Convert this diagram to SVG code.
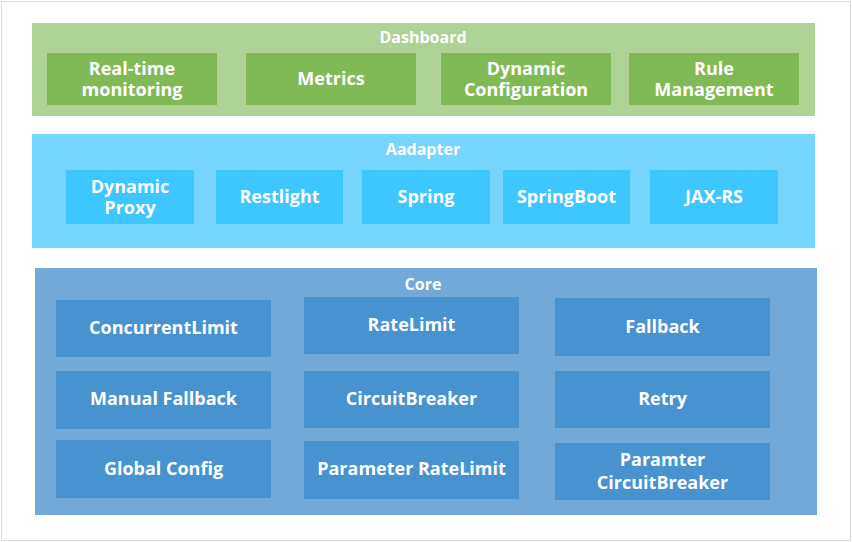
<svg xmlns="http://www.w3.org/2000/svg" width="852" height="542" viewBox="0 0 852 542">
<style>
  .t{font-family:"Open Sans","Noto Sans","Liberation Sans",sans-serif;font-weight:bold;fill:#ffffff;text-anchor:middle;dominant-baseline:central}
  .title{font-size:16px}
  .lbl{font-size:18px}
  .dash-bg{fill:#AED395}
  .dash-in{fill:#7FBA56}
  .ad-bg{fill:#76D5FF}
  .ad-in{fill:#3DC6FF}
  .core-bg{fill:#73A9D8}
  .core-in{fill:#4892CF}
</style>
<rect x="1.5" y="1.5" width="849" height="539" fill="#ffffff" stroke="#D9DCE3" stroke-width="1"/>

<g id="dashboard">
  <rect class="dash-bg" x="32" y="23" width="783" height="93"/>
  <text class="t title" x="423" y="37">Dashboard</text>
</g>
<g id="realtime">
  <rect class="dash-in" x="47" y="53" width="170" height="52"/>
  <text class="t lbl" x="132" y="68">Real-time<tspan x="132" dy="21">monitoring</tspan></text>
</g>
<g id="metrics">
  <rect class="dash-in" x="246" y="53" width="170" height="52"/>
  <text class="t lbl" x="331" y="78">Metrics</text>
</g>
<g id="dynconf">
  <rect class="dash-in" x="441" y="53" width="170" height="52"/>
  <text class="t lbl" x="526" y="68">Dynamic<tspan x="526" dy="21">Configuration</tspan></text>
</g>
<g id="rulemgmt">
  <rect class="dash-in" x="629" y="53" width="170" height="52"/>
  <text class="t lbl" x="714" y="68">Rule<tspan x="714" dy="21">Management</tspan></text>
</g>

<g id="adapter">
  <rect class="ad-bg" x="32" y="134" width="783" height="114"/>
  <text class="t title" x="423" y="149">Aadapter</text>
</g>
<g id="dynproxy">
  <rect class="ad-in" x="66" y="170" width="128" height="54"/>
  <text class="t lbl" x="130" y="186">Dynamic<tspan x="130" dy="21">Proxy</tspan></text>
</g>
<g id="restlight">
  <rect class="ad-in" x="216" y="170" width="127" height="54"/>
  <text class="t lbl" x="279.5" y="196">Restlight</text>
</g>
<g id="spring">
  <rect class="ad-in" x="362" y="170" width="128" height="54"/>
  <text class="t lbl" x="426" y="196">Spring</text>
</g>
<g id="springboot">
  <rect class="ad-in" x="503" y="170" width="127" height="54"/>
  <text class="t lbl" x="566.5" y="196">SpringBoot</text>
</g>
<g id="jaxrs">
  <rect class="ad-in" x="650" y="170" width="128" height="54"/>
  <text class="t lbl" x="714" y="196">JAX-RS</text>
</g>

<g id="core">
  <rect class="core-bg" x="35" y="268" width="782" height="247"/>
  <text class="t title" x="423" y="284">Core</text>
</g>
<g id="concurrentlimit">
  <rect class="core-in" x="56" y="300" width="215" height="57"/>
  <text class="t lbl" x="163.5" y="327">ConcurrentLimit</text>
</g>
<g id="ratelimit">
  <rect class="core-in" x="304" y="297" width="215" height="57"/>
  <text class="t lbl" x="411.5" y="324">RateLimit</text>
</g>
<g id="fallback">
  <rect class="core-in" x="555" y="298" width="215" height="58"/>
  <text class="t lbl" x="662.5" y="326">Fallback</text>
</g>
<g id="manualfallback">
  <rect class="core-in" x="56" y="371" width="215" height="58"/>
  <text class="t lbl" x="163.5" y="398">Manual Fallback</text>
</g>
<g id="circuitbreaker">
  <rect class="core-in" x="304" y="371" width="215" height="57"/>
  <text class="t lbl" x="411.5" y="398">CircuitBreaker</text>
</g>
<g id="retry">
  <rect class="core-in" x="555" y="371" width="215" height="57"/>
  <text class="t lbl" x="662.5" y="398">Retry</text>
</g>
<g id="globalconfig">
  <rect class="core-in" x="56" y="440" width="215" height="58"/>
  <text class="t lbl" x="163.5" y="468">Global Config</text>
</g>
<g id="paramratelimit">
  <rect class="core-in" x="304" y="441" width="215" height="58"/>
  <text class="t lbl" x="411.5" y="468">Parameter RateLimit</text>
</g>
<g id="paramcb">
  <rect class="core-in" x="555" y="443" width="215" height="57"/>
  <text class="t lbl" x="662.5" y="459">Paramter<tspan x="662.5" dy="23">CircuitBreaker</tspan></text>
</g>
<g id="connectors"></g>
</svg>
